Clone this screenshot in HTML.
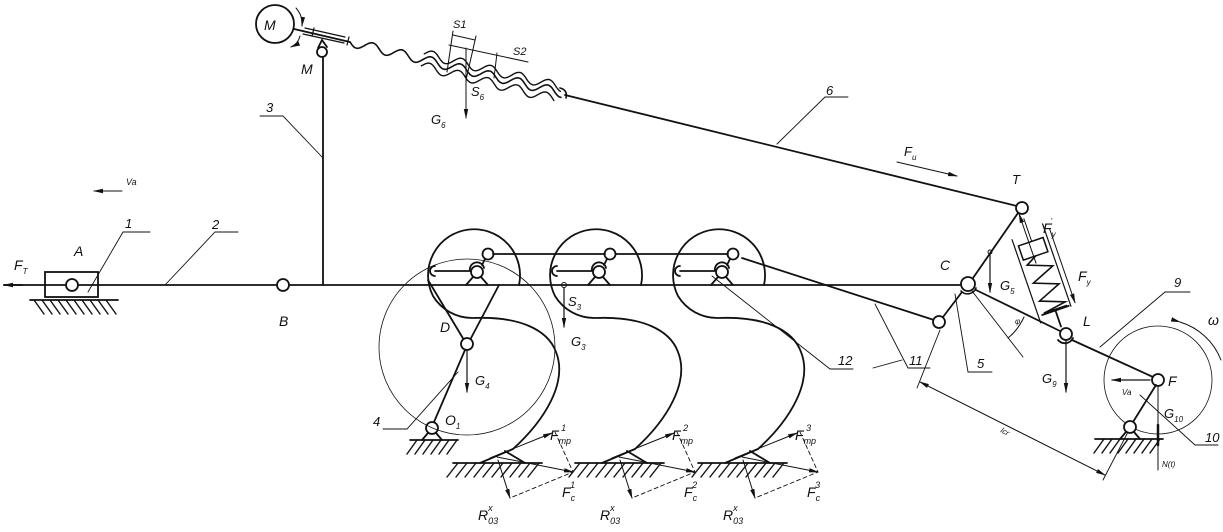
<!DOCTYPE html>
<html><head><meta charset="utf-8"><style>
html,body{margin:0;padding:0;background:#fff;}
svg{display:block;}
text{font-family:"Liberation Sans",sans-serif;font-style:italic;fill:#111;}
</style></head><body>
<svg id="s" width="1223" height="532" viewBox="0 0 1223 532" xmlns="http://www.w3.org/2000/svg">
<defs>
<marker id="ar" markerWidth="10" markerHeight="6" refX="9" refY="3" orient="auto" markerUnits="userSpaceOnUse"><path d="M0,0.8 L10,3 L0,5.2z" fill="#111"/></marker>
</defs>
<g id="g" fill="none" stroke="#111" stroke-width="1.8" stroke-linecap="round">
<line x1="4" y1="285" x2="960" y2="285"/>
<line x1="22" y1="285" x2="4" y2="285" marker-end="url(#ar)"/>
<rect x="45" y="272" width="53" height="25"/>
<circle cx="72" cy="285" r="6" fill="#fff"/>
<line x1="30" y1="300" x2="118" y2="300"/>
<circle cx="283" cy="285" r="6" fill="#fff"/>
<line x1="122" y1="191" x2="94" y2="191" stroke-width="1" marker-end="url(#ar)"/>
<line x1="323" y1="57" x2="323" y2="285"/>
<circle cx="322" cy="52" r="5" fill="#fff"/>
<path d="M318,48 L322,40 L327,47"/>
<circle cx="275" cy="24" r="19"/>
<line x1="294" y1="29" x2="350" y2="42"/>
<line x1="305" y1="28" x2="345" y2="37" stroke-width="1.2"/>
<line x1="303" y1="34" x2="344" y2="43" stroke-width="1.2"/>
<line x1="314" y1="28" x2="312" y2="36" stroke-width="1.2"/>
<line x1="349" y1="37" x2="347" y2="45" stroke-width="1.2"/>
<path d="M296,8 Q303,16 302,26" stroke-width="1" marker-end="url(#ar)"/>
<path d="M300,36 Q298,44 291,47" stroke-width="1" marker-end="url(#ar)"/>
<line x1="565" y1="95" x2="1017" y2="206"/>
<circle cx="1022" cy="208" r="6" fill="#fff"/>
<line x1="897" y1="162" x2="957" y2="176" stroke-width="1" marker-end="url(#ar)"/>
<path id="w1" stroke-width="1.6"/>
<path id="w2" stroke-width="1.4"/>
<path id="w3" stroke-width="1.4"/>
<path d="M560,88 Q568,90 566,98" stroke-width="1.6"/>
<g stroke-width="1">
<line x1="453" y1="31" x2="447" y2="72"/>
<line x1="476" y1="36" x2="466" y2="80"/>
<line x1="453" y1="35" x2="475" y2="40"/>
<line x1="449" y1="45" x2="528" y2="62"/>
<line x1="497" y1="53" x2="494" y2="78"/>
<line x1="466" y1="48" x2="466" y2="118" marker-end="url(#ar)"/>
</g>
<g id="units"></g>
<line x1="493" y1="254" x2="605" y2="254"/>
<line x1="616" y1="254" x2="728" y2="254"/>
<line x1="742" y1="258" x2="934" y2="320"/>
<circle cx="939" cy="322" r="6" fill="#fff"/>
<line x1="428" y1="280" x2="464" y2="340"/>
<line x1="499" y1="285" x2="470" y2="340"/>
<circle cx="467" cy="344" r="6" fill="#fff"/>
<line x1="465" y1="350" x2="434" y2="422"/>
<circle cx="432" cy="428" r="6" fill="#fff"/>
<path d="M428,433 L422,440 M436,433 L442,440"/>
<line x1="410" y1="440" x2="458" y2="440"/>
<line x1="467" y1="350" x2="467" y2="392" stroke-width="1.2" marker-end="url(#ar)"/>
<circle cx="467" cy="347" r="88" stroke-width="0.8"/>
<circle cx="564" cy="285" r="2.5" stroke-width="1"/>
<line x1="564" y1="288" x2="564" y2="327" stroke-width="1.2" marker-end="url(#ar)"/>
<circle cx="968" cy="284" r="7" fill="#fff"/>
<path d="M976,288 A9,9 0 0 1 961,291" stroke-width="1.6"/>
<line x1="973" y1="278" x2="1018" y2="213"/>
<line x1="943" y1="317" x2="962" y2="292"/>
<line x1="976" y1="290" x2="1060" y2="331"/>
<line x1="972" y1="291" x2="1023" y2="357" stroke-width="0.9"/>
<path d="M1008,338 Q1018,330 1024,317" stroke-width="1" />
<circle cx="1066" cy="334" r="6" fill="#fff"/>
<path d="M1073,338 A9,9 0 0 1 1058,340"/>
<line x1="1072" y1="340" x2="1153" y2="377"/>
<circle cx="1158" cy="380" r="6" fill="#fff"/>
<circle cx="1158" cy="380" r="54" stroke-width="0.8"/>
<path d="M1180,322 A64,64 0 0 1 1221,360" stroke-width="1" marker-start="url(#ar)"/>
<line x1="1156" y1="385" x2="1133" y2="422"/>
<circle cx="1130" cy="427" r="6" fill="#fff"/>
<path d="M1126,432 L1120,439 M1134,432 L1140,439"/>
<line x1="1095" y1="439" x2="1163" y2="439"/>
<line x1="1158" y1="386" x2="1158" y2="470" stroke-width="1"/>
<line x1="1158" y1="425" x2="1158" y2="445" stroke-width="2.5"/>
<line x1="1150" y1="380" x2="1112" y2="380" stroke-width="1.2" marker-end="url(#ar)"/>
<line x1="1066" y1="340" x2="1066" y2="392" stroke-width="1.2" marker-end="url(#ar)"/>
<circle cx="990" cy="252" r="2" stroke-width="1"/>
<line x1="990" y1="254" x2="990" y2="292" stroke-width="1.2" marker-end="url(#ar)"/>
<g transform="translate(1044,271) rotate(-19)">
<line x1="-2" y1="-56" x2="-2" y2="-32" stroke-width="1"/>
<line x1="-20" y1="-40" x2="-20" y2="48" stroke-width="1.2"/>
<line x1="14" y1="-45" x2="14" y2="42" stroke-width="1.2"/>
<rect x="-16" y="-32" width="26" height="15" stroke-width="1.5"/>
<path d="M-3,-17 L-14,-11 L10,-2 L-14,8 L10,17 L-14,27 L10,36 L-14,40 L10,40" stroke-width="1.6"/>
<line x1="-16" y1="41" x2="12" y2="41"/>
<line x1="-2" y1="41" x2="-2" y2="58"/>
<line x1="19" y1="-38" x2="19" y2="40" stroke-width="1" marker-end="url(#ar)"/>
<line x1="-5" y1="-10" x2="-5" y2="-62" stroke-width="1" marker-end="url(#ar)"/>
</g>
<g stroke-width="0.9">
<line x1="920" y1="382" x2="1105" y2="475" marker-end="url(#ar)"/>
<line x1="1105" y1="475" x2="920" y2="382" marker-end="url(#ar)"/>
<line x1="917" y1="388" x2="940" y2="330"/>
<line x1="1103" y1="480" x2="1128" y2="432"/>
</g>
<g id="hat" stroke-width="1.4"></g>
<g stroke-width="0.9">
<polyline points="88,292 123,232 150,232"/>
<polyline points="165,285 215,232 238,232"/>
<polyline points="323,158 283,116 260,116"/>
<polyline points="777,144 825,97 848,97"/>
<polyline points="1100,347 1165,292 1190,292"/>
<polyline points="1140,395 1195,445 1218,445"/>
<polyline points="458,372 407,429 383,429"/>
<polyline points="712,276 830,369 853,369"/>
<polyline points="875,304 908,368 930,368"/>
<polyline points="902,360 873,368"/>
<polyline points="955,294 968,372 992,372"/>
</g>
</g>
<g id="lab" font-size="13"></g>
<script>
var NS="http://www.w3.org/2000/svg";
function wave(x1,y1,x2,y2,per,amp,off,t0){var dx=x2-x1,dy=y2-y1,L=Math.hypot(dx,dy),ux=dx/L,uy=dy/L,nx=-uy,ny=ux,d="";for(var t=t0;t<=L;t+=1){var a=Math.sin(t/per*2*Math.PI)*amp+off;var x=x1+ux*t+nx*a,y=y1+uy*t+ny*a;d+=(t>t0?"L":"M")+x.toFixed(1)+","+y.toFixed(1);}return d;}
document.getElementById("w1").setAttribute("d",wave(350,42,562,93,30,4.5,0,0));
document.getElementById("w2").setAttribute("d",wave(350,42,560,93,30,4.5,-6,75));
document.getElementById("w3").setAttribute("d",wave(350,42,556,93,30,4.5,6,75));
function el(p,n,a){var e=document.createElementNS(NS,n);for(var k in a)e.setAttribute(k,a[k]);p.appendChild(e);return e;}
var LB=document.getElementById("lab");
// parts: [text, fontsize, dx, dy]
function T(x,y,fs,parts,extra){var t=el(LB,"text",Object.assign({x:x,y:y,"font-size":fs},extra||{}));parts.forEach(function(p){var s=el(t,"tspan",{"font-size":p[1]||fs});if(p[2])s.setAttribute("dx",p[2]);if(p[3])s.setAttribute("dy",p[3]);s.textContent=p[0];});return t;}
function S(x,y,fs,main,sub,sup,subfs){var parts=[[main,fs]];if(sub)parts.push([sub,subfs||8,0,4]);if(sup)parts.push([sup,subfs||8,sub?-(sub.length*5):0,sub?-13:-7]);return T(x,y,fs,parts);}
S(14,270,14,"F","T");
T(74,256,14,[["A"]]);T(125,228,13,[["1"]]);T(212,229,13,[["2"]]);
T(126,185,9,[["Va"]]);T(279,326,14,[["B"]]);T(266,112,13,[["3"]]);
T(264,30,14,[["M"]]);T(301,74,14,[["M"]]);
T(453,28,11,[["S1"]]);T(513,55,11,[["S2"]]);
S(471,96,13,"S","6");S(431,124,13,"G","6");
T(826,95,13,[["6"]]);S(904,156,13,"F","u");T(1012,184,13,[["T"]]);
T(940,270,14,[["C"]]);S(1000,290,13,"G","5");
S(1043,233,14,"F","y","'");S(1078,281,14,"F","y");
T(1083,326,14,[["L"]]);T(1174,287,13,[["9"]]);T(1208,325,14,[["ω"]]);
S(1042,383,13,"G","9");T(1168,386,14,[["F"]]);T(1122,395,8,[["Va"]]);
S(1164,418,13,"G","10");T(1205,442,13,[["10"]]);T(1162,467,8,[["N(t)"]]);
T(1000,432,8,[["lcr"]],{transform:"rotate(28 1000 432)"});
T(1015,324,8,[["φ"]]);T(977,368,13,[["5"]]);T(909,365,13,[["11"]]);T(838,365,13,[["12"]]);
T(373,426,13,[["4"]]);T(440,332,14,[["D"]]);S(475,385,13,"G","4");S(445,425,14,"O","1");
S(568,306,13,"S","3");S(571,346,13,"G","3");
var H=document.getElementById("hat");
function hatch(x1,x2,y,dir){for(var x=x1+4;x<=x2;x+=8){el(H,"line",{x1:x,y1:y,x2:x+dir*10,y2:y+14});}}
hatch(30,112,300,1);hatch(413,458,440,-1);hatch(1100,1160,439,-1);
var U=document.getElementById("units");
var offs=[0,122,245],sup=["1","2","3"];
offs.forEach(function(o,i){
 var g=el(U,"g",{transform:"translate("+o+",0)"});
 el(g,"path",{d:"M519,285 A46,46 0 1 0 433,296 A46,46 0 0 0 473,318 C520,316 548,330 556,352 C568,382 545,420 513,449"});
 el(g,"line",{x1:513,y1:449,x2:480,y2:463});
 el(g,"line",{x1:505,y1:451,x2:525,y2:463});
 el(g,"path",{d:"M435,266 A5,5 0 0 0 435,276 M435,271 L470,271 M470,271 A7,7 0 0 1 484,268"});
 el(g,"circle",{cx:477,cy:272,r:6,fill:"#fff"});
 el(g,"path",{d:"M473,277 L466,285 M481,277 L488,285"});
 el(g,"circle",{cx:488,cy:254,r:5.5,fill:"#fff"});
 el(g,"line",{x1:485,y1:259,x2:482,y2:265});
 el(g,"line",{x1:453,y1:463,x2:542,y2:463});
 for(var x=458;x<=540;x+=9)el(g,"line",{x1:x,y1:463,x2:x-11,y2:477,"stroke-width":1.4});
 el(g,"line",{x1:490,y1:458,x2:552,y2:433,"stroke-width":1,"marker-end":"url(#ar)"});
 el(g,"line",{x1:497,y1:457,x2:573,y2:472,"stroke-width":1,"marker-end":"url(#ar)"});
 el(g,"line",{x1:498,y1:460,x2:510,y2:498,"stroke-width":1,"marker-end":"url(#ar)"});
 el(g,"path",{d:"M555,432 L573,472 L510,498","stroke-width":0.9,"stroke-dasharray":"4,3"});
 S(550+o,440,14,"F","mp",sup[i],9);
 S(562+o,497,14,"F","c",sup[i],9);
 S(478+o,520,14,"R","03","x",9);
});
</script>
</svg>
</body></html>
